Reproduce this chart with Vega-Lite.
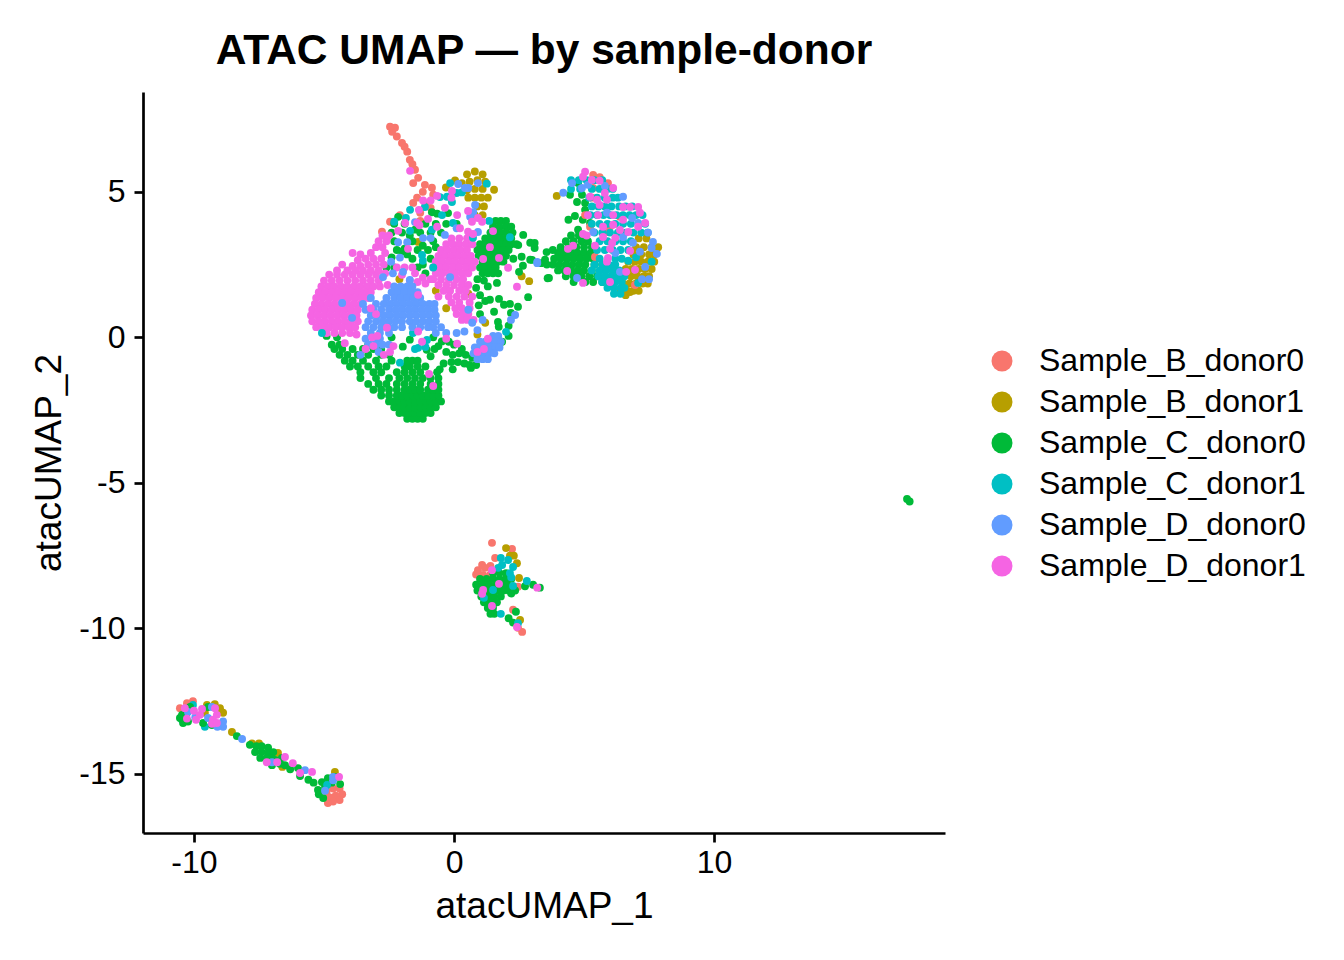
{
"$schema":"https://vega.github.io/schema/vega-lite/v6.json",
"width":802,"height":741,
"autosize":{"type":"none"},
"padding":{"left":143,"top":92,"right":399,"bottom":127},
"background":"white",
"title":{"text":"ATAC UMAP — by sample-donor","fontSize":42.5,"font":"Liberation Sans","fontWeight":"bold","color":"black","anchor":"middle","offset":20},
"config":{"view":{"stroke":null},"font":"Liberation Sans"},
"data":{"values":[
{"x":-2.46,"y":3.97,"s":"B0"},{"x":-2.77,"y":3.63,"s":"B0"},{"x":-2.08,"y":4.2,"s":"B0"},{"x":-1.3,"y":4.28,"s":"B0"},{"x":-1.57,"y":4.62,"s":"B0"},{"x":-1.42,"y":4.8,"s":"B0"},{"x":-1.2,"y":5,"s":"B0"},{"x":-0.8,"y":4.9,"s":"B0"},{"x":-1.57,"y":5.3,"s":"B0"},{"x":-0.85,"y":5.14,"s":"B0"},{"x":-1.12,"y":5.24,"s":"B0"},{"x":-1.38,"y":5.48,"s":"B0"},{"x":-1.5,"y":5.76,"s":"B0"},{"x":-1.6,"y":5.95,"s":"B0"},{"x":-1.7,"y":6.1,"s":"B0"},{"x":-1.8,"y":6.38,"s":"B0"},{"x":-1.9,"y":6.55,"s":"B0"},{"x":-2,"y":6.68,"s":"B0"},{"x":-2.2,"y":6.9,"s":"B0"},{"x":-2.38,"y":7.06,"s":"B0"},{"x":-2.27,"y":7.2,"s":"B0"},{"x":-2.46,"y":7.24,"s":"B0"},{"x":-1.1,"y":4.6,"s":"B0"},{"x":-1.3,"y":4,"s":"B0"},{"x":-0.9,"y":4.45,"s":"B0"},
{"x":0.5,"y":5.6,"s":"B1"},{"x":0.8,"y":5.7,"s":"B1"},{"x":1.1,"y":5.6,"s":"B1"},{"x":0.3,"y":5.3,"s":"B1"},{"x":0.6,"y":5.35,"s":"B1"},{"x":0.9,"y":5.4,"s":"B1"},{"x":1.2,"y":5.35,"s":"B1"},{"x":0.5,"y":5.05,"s":"B1"},{"x":0.8,"y":5.1,"s":"B1"},{"x":1.1,"y":5.1,"s":"B1"},{"x":1.3,"y":4.8,"s":"B1"},{"x":0.55,"y":4.8,"s":"B1"},{"x":0.8,"y":4.8,"s":"B1"},{"x":1.05,"y":4.8,"s":"B1"},{"x":0.9,"y":4.5,"s":"B1"},{"x":1.15,"y":4.5,"s":"B1"},{"x":0.8,"y":4.2,"s":"B1"},{"x":1.1,"y":4.2,"s":"B1"},{"x":1.54,"y":5.07,"s":"B1"},{"x":0.04,"y":5.39,"s":"B1"},{"x":-0.31,"y":5.15,"s":"B1"},{"x":-1.38,"y":3.28,"s":"B1"},{"x":-2.1,"y":2,"s":"B1"},{"x":-2.2,"y":1.7,"s":"B1"},{"x":-0.7,"y":1.6,"s":"B1"},{"x":0.55,"y":1.5,"s":"B1"},{"x":-0.3,"y":1,"s":"B1"},{"x":2.6,"y":2.1,"s":"B1"},{"x":2.89,"y":1.93,"s":"B1"},{"x":1.2,"y":0.5,"s":"B1"},{"x":0.9,"y":0.1,"s":"B1"},
{"x":1.6,"y":4,"s":"C0"},{"x":1.8,"y":4,"s":"C0"},{"x":2,"y":4,"s":"C0"},{"x":1.5,"y":3.8,"s":"C0"},{"x":1.75,"y":3.8,"s":"C0"},{"x":2,"y":3.8,"s":"C0"},{"x":2.2,"y":3.8,"s":"C0"},{"x":1.4,"y":3.6,"s":"C0"},{"x":1.6,"y":3.6,"s":"C0"},{"x":1.8,"y":3.6,"s":"C0"},{"x":2,"y":3.6,"s":"C0"},{"x":2.25,"y":3.6,"s":"C0"},{"x":1.2,"y":3.4,"s":"C0"},{"x":1.4,"y":3.4,"s":"C0"},{"x":1.6,"y":3.4,"s":"C0"},{"x":1.8,"y":3.4,"s":"C0"},{"x":2,"y":3.4,"s":"C0"},{"x":2.2,"y":3.4,"s":"C0"},{"x":1,"y":3.2,"s":"C0"},{"x":1.2,"y":3.2,"s":"C0"},{"x":1.4,"y":3.2,"s":"C0"},{"x":1.6,"y":3.2,"s":"C0"},{"x":1.8,"y":3.2,"s":"C0"},{"x":2,"y":3.2,"s":"C0"},{"x":2.2,"y":3.2,"s":"C0"},{"x":2.4,"y":3.2,"s":"C0"},{"x":0.9,"y":3,"s":"C0"},{"x":1.1,"y":3,"s":"C0"},{"x":1.3,"y":3,"s":"C0"},{"x":1.5,"y":3,"s":"C0"},{"x":1.7,"y":3,"s":"C0"},{"x":1.9,"y":3,"s":"C0"},{"x":2.1,"y":3,"s":"C0"},{"x":0.95,"y":2.8,"s":"C0"},{"x":1.2,"y":2.8,"s":"C0"},{"x":1.4,"y":2.8,"s":"C0"},{"x":1.6,"y":2.8,"s":"C0"},{"x":1.8,"y":2.8,"s":"C0"},{"x":2,"y":2.8,"s":"C0"},{"x":1.1,"y":2.6,"s":"C0"},{"x":1.3,"y":2.6,"s":"C0"},{"x":1.5,"y":2.6,"s":"C0"},{"x":1.7,"y":2.6,"s":"C0"},{"x":1.9,"y":2.6,"s":"C0"},{"x":1,"y":2.4,"s":"C0"},{"x":1.2,"y":2.4,"s":"C0"},{"x":1.4,"y":2.4,"s":"C0"},{"x":1.6,"y":2.4,"s":"C0"},{"x":1.1,"y":2.2,"s":"C0"},{"x":1.3,"y":2.2,"s":"C0"},{"x":1.5,"y":2.2,"s":"C0"},{"x":1.7,"y":2.2,"s":"C0"},{"x":0.9,"y":2,"s":"C0"},{"x":1.15,"y":1.95,"s":"C0"},{"x":1.3,"y":1.75,"s":"C0"},{"x":0.85,"y":1.7,"s":"C0"},{"x":1,"y":1.45,"s":"C0"},{"x":1.2,"y":1.25,"s":"C0"},{"x":0.95,"y":1.1,"s":"C0"},{"x":1,"y":0.8,"s":"C0"},
{"x":2.66,"y":3.52,"s":"C0"},{"x":2.47,"y":3.17,"s":"C0"},{"x":2.93,"y":3.25,"s":"C0"},{"x":3.1,"y":3.07,"s":"C0"},{"x":3.56,"y":2.93,"s":"C0"},{"x":2.28,"y":2.7,"s":"C0"},{"x":2.6,"y":2.77,"s":"C0"},{"x":2.93,"y":2.67,"s":"C0"},{"x":3.5,"y":2.67,"s":"C0"},{"x":2.65,"y":2.46,"s":"C0"},{"x":2.5,"y":2.25,"s":"C0"},{"x":3.6,"y":2.03,"s":"C0"},{"x":2.85,"y":1.38,"s":"C0"},{"x":1.65,"y":1.87,"s":"C0"},{"x":1.38,"y":1.29,"s":"C0"},{"x":1.73,"y":1.32,"s":"C0"},{"x":1.92,"y":1.12,"s":"C0"},{"x":2.15,"y":1.15,"s":"C0"},{"x":2.46,"y":1.05,"s":"C0"},{"x":1.54,"y":0.88,"s":"C0"},{"x":2.19,"y":0.84,"s":"C0"},{"x":1.69,"y":0.53,"s":"C0"},{"x":1.72,"y":0.36,"s":"C0"},{"x":2.1,"y":0.4,"s":"C0"},{"x":1.85,"y":-0.15,"s":"C0"},{"x":2.1,"y":0.05,"s":"C0"},
{"x":-1.8,"y":-2.8,"s":"C0"},{"x":-1.6,"y":-2.8,"s":"C0"},{"x":-1.4,"y":-2.8,"s":"C0"},{"x":-1.2,"y":-2.8,"s":"C0"},{"x":-2.1,"y":-2.6,"s":"C0"},{"x":-1.9,"y":-2.6,"s":"C0"},{"x":-1.7,"y":-2.6,"s":"C0"},{"x":-1.5,"y":-2.6,"s":"C0"},{"x":-1.3,"y":-2.6,"s":"C0"},{"x":-1.1,"y":-2.6,"s":"C0"},{"x":-0.9,"y":-2.6,"s":"C0"},{"x":-2.3,"y":-2.4,"s":"C0"},{"x":-2.1,"y":-2.4,"s":"C0"},{"x":-1.9,"y":-2.4,"s":"C0"},{"x":-1.7,"y":-2.4,"s":"C0"},{"x":-1.5,"y":-2.4,"s":"C0"},{"x":-1.3,"y":-2.4,"s":"C0"},{"x":-1.1,"y":-2.4,"s":"C0"},{"x":-0.9,"y":-2.4,"s":"C0"},{"x":-0.7,"y":-2.4,"s":"C0"},{"x":-2.5,"y":-2.2,"s":"C0"},{"x":-2.3,"y":-2.2,"s":"C0"},{"x":-2.1,"y":-2.2,"s":"C0"},{"x":-1.9,"y":-2.2,"s":"C0"},{"x":-1.7,"y":-2.2,"s":"C0"},{"x":-1.5,"y":-2.2,"s":"C0"},{"x":-1.3,"y":-2.2,"s":"C0"},{"x":-1.1,"y":-2.2,"s":"C0"},{"x":-0.9,"y":-2.2,"s":"C0"},{"x":-0.7,"y":-2.2,"s":"C0"},{"x":-0.5,"y":-2.2,"s":"C0"},{"x":-2.8,"y":-2,"s":"C0"},{"x":-2.5,"y":-2,"s":"C0"},{"x":-2.2,"y":-2,"s":"C0"},{"x":-2,"y":-2,"s":"C0"},{"x":-1.8,"y":-2,"s":"C0"},{"x":-1.6,"y":-2,"s":"C0"},{"x":-1.4,"y":-2,"s":"C0"},{"x":-1.2,"y":-2,"s":"C0"},{"x":-1,"y":-2,"s":"C0"},{"x":-0.8,"y":-2,"s":"C0"},{"x":-0.6,"y":-2,"s":"C0"},{"x":-3.1,"y":-1.8,"s":"C0"},{"x":-2.8,"y":-1.8,"s":"C0"},{"x":-2.5,"y":-1.8,"s":"C0"},{"x":-2.2,"y":-1.8,"s":"C0"},{"x":-1.9,"y":-1.8,"s":"C0"},{"x":-1.7,"y":-1.8,"s":"C0"},{"x":-1.5,"y":-1.8,"s":"C0"},{"x":-1.3,"y":-1.8,"s":"C0"},{"x":-1,"y":-1.8,"s":"C0"},{"x":-0.8,"y":-1.8,"s":"C0"},{"x":-0.6,"y":-1.8,"s":"C0"},{"x":-3.3,"y":-1.6,"s":"C0"},{"x":-2.9,"y":-1.6,"s":"C0"},{"x":-2.6,"y":-1.6,"s":"C0"},{"x":-2.2,"y":-1.6,"s":"C0"},{"x":-1.9,"y":-1.6,"s":"C0"},{"x":-1.6,"y":-1.6,"s":"C0"},{"x":-1.3,"y":-1.6,"s":"C0"},{"x":-0.9,"y":-1.6,"s":"C0"},{"x":-0.6,"y":-1.6,"s":"C0"},{"x":-3.6,"y":-1.4,"s":"C0"},{"x":-3,"y":-1.4,"s":"C0"},{"x":-2.5,"y":-1.4,"s":"C0"},{"x":-2.1,"y":-1.4,"s":"C0"},{"x":-1.8,"y":-1.4,"s":"C0"},{"x":-1.5,"y":-1.4,"s":"C0"},{"x":-1.2,"y":-1.4,"s":"C0"},{"x":-0.9,"y":-1.4,"s":"C0"},{"x":-0.6,"y":-1.4,"s":"C0"},{"x":-3.6,"y":-1.2,"s":"C0"},{"x":-3.1,"y":-1.2,"s":"C0"},{"x":-2.8,"y":-1.2,"s":"C0"},{"x":-2.2,"y":-1.2,"s":"C0"},{"x":-1.9,"y":-1.2,"s":"C0"},{"x":-1.6,"y":-1.2,"s":"C0"},{"x":-1.3,"y":-1.2,"s":"C0"},{"x":-0.65,"y":-1.2,"s":"C0"},{"x":-4,"y":-1,"s":"C0"},{"x":-3.7,"y":-1,"s":"C0"},{"x":-3.3,"y":-1,"s":"C0"},{"x":-2.9,"y":-1,"s":"C0"},{"x":-2.6,"y":-1,"s":"C0"},{"x":-1.9,"y":-1,"s":"C0"},{"x":-1.7,"y":-1,"s":"C0"},{"x":-1.4,"y":-1,"s":"C0"},{"x":-1.1,"y":-1,"s":"C0"},{"x":-4.2,"y":-0.8,"s":"C0"},{"x":-3.9,"y":-0.8,"s":"C0"},{"x":-3.5,"y":-0.8,"s":"C0"},{"x":-3,"y":-0.8,"s":"C0"},{"x":-2.4,"y":-0.8,"s":"C0"},{"x":-1.8,"y":-0.8,"s":"C0"},{"x":-1.6,"y":-0.8,"s":"C0"},{"x":-1.4,"y":-0.8,"s":"C0"},{"x":-4.4,"y":-0.6,"s":"C0"},{"x":-4.1,"y":-0.6,"s":"C0"},{"x":-3.7,"y":-0.6,"s":"C0"},{"x":-3.3,"y":-0.6,"s":"C0"},{"x":-2.8,"y":-0.6,"s":"C0"},{"x":-2.5,"y":-0.6,"s":"C0"},{"x":-4.6,"y":-0.4,"s":"C0"},{"x":-4.3,"y":-0.4,"s":"C0"},{"x":-3.9,"y":-0.4,"s":"C0"},{"x":-3.5,"y":-0.4,"s":"C0"},{"x":-3.1,"y":-0.4,"s":"C0"},{"x":-2.8,"y":-0.4,"s":"C0"},{"x":-4.7,"y":-0.25,"s":"C0"},{"x":-4.4,"y":-0.25,"s":"C0"},{"x":-3.3,"y":-0.25,"s":"C0"},{"x":-0.3,"y":-0.5,"s":"C0"},{"x":-0.05,"y":-0.6,"s":"C0"},{"x":0.2,"y":-0.55,"s":"C0"},{"x":0.45,"y":-0.6,"s":"C0"},{"x":0.7,"y":-0.7,"s":"C0"},{"x":-0.4,"y":-0.9,"s":"C0"},{"x":-0.1,"y":-0.85,"s":"C0"},{"x":0.15,"y":-0.85,"s":"C0"},{"x":0.4,"y":-0.9,"s":"C0"},{"x":0.6,"y":-0.95,"s":"C0"},{"x":0.85,"y":-0.95,"s":"C0"},{"x":-0.55,"y":-1.1,"s":"C0"},{"x":-0.05,"y":-1.1,"s":"C0"},{"x":0.65,"y":-1.05,"s":"C0"},{"x":0.3,"y":-0.4,"s":"C0"},{"x":0,"y":-0.25,"s":"C0"},{"x":-0.2,"y":-0.15,"s":"C0"},{"x":-0.6,"y":-0.3,"s":"C0"},{"x":-0.8,"y":0,"s":"C0"},{"x":-0.47,"y":-0.14,"s":"C0"},{"x":-1.7,"y":-0.08,"s":"C0"},{"x":-2.4,"y":0,"s":"C0"},{"x":-1.97,"y":-0.32,"s":"C0"},{"x":-1.05,"y":-0.43,"s":"C0"},{"x":-0.75,"y":-0.4,"s":"C0"},{"x":-0.9,"y":-0.65,"s":"C0"},{"x":-4.9,"y":0.05,"s":"C0"},{"x":-4.5,"y":0,"s":"C0"},
{"x":-2.15,"y":4.14,"s":"C0"},{"x":-0.85,"y":4.3,"s":"C0"},{"x":-0.65,"y":4.25,"s":"C0"},{"x":-0.23,"y":4.27,"s":"C0"},{"x":-2.3,"y":3.9,"s":"C0"},{"x":-1.9,"y":3.9,"s":"C0"},{"x":-1.5,"y":3.7,"s":"C0"},{"x":-1.1,"y":3.9,"s":"C0"},{"x":-0.7,"y":3.9,"s":"C0"},{"x":-0.3,"y":3.9,"s":"C0"},{"x":0.1,"y":3.9,"s":"C0"},{"x":-2.4,"y":3.6,"s":"C0"},{"x":-2,"y":3.6,"s":"C0"},{"x":-1.7,"y":3.5,"s":"C0"},{"x":-1.3,"y":3.6,"s":"C0"},{"x":-0.9,"y":3.6,"s":"C0"},{"x":-0.5,"y":3.6,"s":"C0"},{"x":-2.3,"y":3.3,"s":"C0"},{"x":-1.9,"y":3.05,"s":"C0"},{"x":-1.6,"y":3.3,"s":"C0"},{"x":-1.2,"y":3.15,"s":"C0"},{"x":-0.8,"y":3.3,"s":"C0"},{"x":-2.2,"y":3,"s":"C0"},{"x":-1.8,"y":2.85,"s":"C0"},{"x":-1.4,"y":3,"s":"C0"},{"x":-1,"y":3,"s":"C0"},{"x":-0.7,"y":3.1,"s":"C0"},{"x":-2.4,"y":2.75,"s":"C0"},{"x":-2,"y":2.95,"s":"C0"},{"x":-1.6,"y":2.7,"s":"C0"},{"x":-1.2,"y":2.5,"s":"C0"},{"x":-0.9,"y":2.7,"s":"C0"},{"x":-2.6,"y":2.4,"s":"C0"},{"x":-2.3,"y":2.4,"s":"C0"},{"x":-1.4,"y":2.4,"s":"C0"},{"x":-1.1,"y":2.2,"s":"C0"},
{"x":4.5,"y":3.5,"s":"C0"},{"x":4.8,"y":3.5,"s":"C0"},{"x":5,"y":3.5,"s":"C0"},{"x":4.3,"y":3.3,"s":"C0"},{"x":4.6,"y":3.3,"s":"C0"},{"x":4.9,"y":3.3,"s":"C0"},{"x":5.15,"y":3.3,"s":"C0"},{"x":4.1,"y":3.1,"s":"C0"},{"x":4.4,"y":3.1,"s":"C0"},{"x":4.7,"y":3.1,"s":"C0"},{"x":5,"y":3.1,"s":"C0"},{"x":5.3,"y":3.1,"s":"C0"},{"x":4,"y":2.9,"s":"C0"},{"x":4.25,"y":2.9,"s":"C0"},{"x":4.5,"y":2.9,"s":"C0"},{"x":4.75,"y":2.9,"s":"C0"},{"x":5,"y":2.9,"s":"C0"},{"x":5.25,"y":2.9,"s":"C0"},{"x":3.85,"y":2.7,"s":"C0"},{"x":4.1,"y":2.7,"s":"C0"},{"x":4.35,"y":2.7,"s":"C0"},{"x":4.6,"y":2.7,"s":"C0"},{"x":4.85,"y":2.7,"s":"C0"},{"x":5.1,"y":2.7,"s":"C0"},{"x":5.35,"y":2.7,"s":"C0"},{"x":3.8,"y":2.5,"s":"C0"},{"x":4.05,"y":2.5,"s":"C0"},{"x":4.3,"y":2.5,"s":"C0"},{"x":4.55,"y":2.5,"s":"C0"},{"x":4.8,"y":2.5,"s":"C0"},{"x":5.05,"y":2.5,"s":"C0"},{"x":5.4,"y":2.5,"s":"C0"},{"x":5.7,"y":2.5,"s":"C0"},{"x":4,"y":2.3,"s":"C0"},{"x":4.25,"y":2.3,"s":"C0"},{"x":4.5,"y":2.3,"s":"C0"},{"x":4.75,"y":2.3,"s":"C0"},{"x":5,"y":2.3,"s":"C0"},{"x":5.3,"y":2.3,"s":"C0"},{"x":4.3,"y":2.1,"s":"C0"},{"x":4.6,"y":2.1,"s":"C0"},{"x":4.9,"y":2.1,"s":"C0"},{"x":5.2,"y":2.1,"s":"C0"},{"x":5.5,"y":2.1,"s":"C0"},{"x":4.6,"y":1.9,"s":"C0"},{"x":5.05,"y":1.9,"s":"C0"},{"x":5.35,"y":1.9,"s":"C0"},{"x":5.7,"y":1.9,"s":"C0"},{"x":4.4,"y":4.04,"s":"C0"},{"x":4.65,"y":4.17,"s":"C0"},{"x":4.95,"y":4.04,"s":"C0"},{"x":4.77,"y":3.7,"s":"C0"},{"x":3.8,"y":3,"s":"C0"},{"x":3.57,"y":2.5,"s":"C0"},{"x":3.35,"y":2.55,"s":"C0"},{"x":3,"y":2.66,"s":"C0"},{"x":3.65,"y":2.04,"s":"C0"},{"x":3.1,"y":3.24,"s":"C0"},{"x":4.77,"y":5.3,"s":"C0"},{"x":4.46,"y":4.9,"s":"C0"},{"x":4.92,"y":4.9,"s":"C0"},{"x":5.04,"y":4.62,"s":"C0"},{"x":4.73,"y":4.65,"s":"C0"},{"x":5.23,"y":3.93,"s":"C0"},{"x":5.04,"y":4.38,"s":"C0"},
{"x":7.1,"y":3.4,"s":"B1"},{"x":7.4,"y":3.4,"s":"B1"},{"x":7,"y":3.1,"s":"B1"},{"x":7.3,"y":3.1,"s":"B1"},{"x":7.6,"y":3.1,"s":"B1"},{"x":7.85,"y":3.1,"s":"B1"},{"x":6.9,"y":2.85,"s":"B1"},{"x":7.2,"y":2.85,"s":"B1"},{"x":7.5,"y":2.85,"s":"B1"},{"x":7.7,"y":2.85,"s":"B1"},{"x":6.7,"y":2.6,"s":"B1"},{"x":6.95,"y":2.6,"s":"B1"},{"x":7.2,"y":2.6,"s":"B1"},{"x":7.45,"y":2.6,"s":"B1"},{"x":7.7,"y":2.6,"s":"B1"},{"x":6.6,"y":2.35,"s":"B1"},{"x":6.85,"y":2.35,"s":"B1"},{"x":7.1,"y":2.35,"s":"B1"},{"x":7.35,"y":2.35,"s":"B1"},{"x":7.6,"y":2.35,"s":"B1"},{"x":6.5,"y":2.1,"s":"B1"},{"x":6.8,"y":2.1,"s":"B1"},{"x":7.05,"y":2.1,"s":"B1"},{"x":7.3,"y":2.1,"s":"B1"},{"x":7.5,"y":2.1,"s":"B1"},{"x":6.5,"y":1.85,"s":"B1"},{"x":6.75,"y":1.85,"s":"B1"},{"x":7,"y":1.85,"s":"B1"},{"x":7.25,"y":1.85,"s":"B1"},{"x":7.45,"y":1.85,"s":"B1"},{"x":6.4,"y":1.6,"s":"B1"},{"x":6.65,"y":1.6,"s":"B1"},{"x":6.9,"y":1.6,"s":"B1"},{"x":7.1,"y":1.6,"s":"B1"},{"x":6.6,"y":1.45,"s":"B1"},{"x":3.95,"y":4.86,"s":"B1"},{"x":6.77,"y":1.56,"s":"B1"},
{"x":5.6,"y":5.5,"s":"B0"},{"x":5.35,"y":5.58,"s":"B0"},{"x":5.92,"y":5.3,"s":"B0"},{"x":5.35,"y":5.13,"s":"B0"},{"x":5.3,"y":4.8,"s":"B0"},{"x":5.04,"y":4.2,"s":"B0"},{"x":5.23,"y":3.8,"s":"B0"},{"x":5.88,"y":3.62,"s":"B0"},{"x":5.42,"y":2.76,"s":"B0"},{"x":6.38,"y":4.14,"s":"B0"},{"x":6.96,"y":1.8,"s":"B0"},{"x":6,"y":3.8,"s":"B0"},
{"x":4.5,"y":5.4,"s":"C1"},{"x":4.8,"y":5.4,"s":"C1"},{"x":5.1,"y":5.4,"s":"C1"},{"x":5.4,"y":5.4,"s":"C1"},{"x":5.7,"y":5.4,"s":"C1"},{"x":4.5,"y":5.1,"s":"C1"},{"x":4.85,"y":5.1,"s":"C1"},{"x":5.3,"y":5.1,"s":"C1"},{"x":5.6,"y":5.1,"s":"C1"},{"x":5.9,"y":5.1,"s":"C1"},{"x":6.1,"y":5.1,"s":"C1"},{"x":5.2,"y":4.8,"s":"C1"},{"x":5.5,"y":4.8,"s":"C1"},{"x":5.8,"y":4.8,"s":"C1"},{"x":6.1,"y":4.8,"s":"C1"},{"x":6.3,"y":4.8,"s":"C1"},{"x":5.3,"y":4.5,"s":"C1"},{"x":5.55,"y":4.5,"s":"C1"},{"x":5.8,"y":4.5,"s":"C1"},{"x":6.05,"y":4.5,"s":"C1"},{"x":6.35,"y":4.5,"s":"C1"},{"x":6.6,"y":4.5,"s":"C1"},{"x":6.85,"y":4.5,"s":"C1"},{"x":5.25,"y":4.2,"s":"C1"},{"x":5.5,"y":4.2,"s":"C1"},{"x":5.75,"y":4.2,"s":"C1"},{"x":6,"y":4.2,"s":"C1"},{"x":6.25,"y":4.2,"s":"C1"},{"x":6.5,"y":4.2,"s":"C1"},{"x":6.75,"y":4.2,"s":"C1"},{"x":7,"y":4.2,"s":"C1"},{"x":7.25,"y":4.2,"s":"C1"},{"x":5.3,"y":3.9,"s":"C1"},{"x":5.6,"y":3.9,"s":"C1"},{"x":5.9,"y":3.9,"s":"C1"},{"x":6.2,"y":3.9,"s":"C1"},{"x":6.5,"y":3.9,"s":"C1"},{"x":6.8,"y":3.9,"s":"C1"},{"x":7.1,"y":3.9,"s":"C1"},{"x":7.35,"y":3.9,"s":"C1"},{"x":5.4,"y":3.6,"s":"C1"},{"x":5.7,"y":3.6,"s":"C1"},{"x":6,"y":3.6,"s":"C1"},{"x":6.3,"y":3.6,"s":"C1"},{"x":6.6,"y":3.6,"s":"C1"},{"x":6.9,"y":3.6,"s":"C1"},{"x":7.2,"y":3.6,"s":"C1"},{"x":7.45,"y":3.6,"s":"C1"},{"x":5.6,"y":3.3,"s":"C1"},{"x":5.9,"y":3.3,"s":"C1"},{"x":6.2,"y":3.3,"s":"C1"},{"x":6.5,"y":3.3,"s":"C1"},{"x":6.8,"y":3.3,"s":"C1"},{"x":5.5,"y":3,"s":"C1"},{"x":5.8,"y":3,"s":"C1"},{"x":6.1,"y":3,"s":"C1"},{"x":6.4,"y":3,"s":"C1"},{"x":6.7,"y":3,"s":"C1"},{"x":5.6,"y":2.7,"s":"C1"},{"x":6.2,"y":2.7,"s":"C1"},{"x":6.45,"y":2.7,"s":"C1"},{"x":5.4,"y":2.5,"s":"C1"},{"x":5.7,"y":2.5,"s":"C1"},{"x":5.95,"y":2.5,"s":"C1"},{"x":6.2,"y":2.5,"s":"C1"},{"x":5.3,"y":2.3,"s":"C1"},{"x":5.6,"y":2.3,"s":"C1"},{"x":5.85,"y":2.3,"s":"C1"},{"x":6.1,"y":2.3,"s":"C1"},{"x":6.35,"y":2.3,"s":"C1"},{"x":5.55,"y":2.1,"s":"C1"},{"x":5.8,"y":2.1,"s":"C1"},{"x":6.05,"y":2.1,"s":"C1"},{"x":6.3,"y":2.1,"s":"C1"},{"x":6.55,"y":2.1,"s":"C1"},{"x":5.7,"y":1.9,"s":"C1"},{"x":5.95,"y":1.9,"s":"C1"},{"x":6.2,"y":1.9,"s":"C1"},{"x":6.45,"y":1.9,"s":"C1"},{"x":5.9,"y":1.7,"s":"C1"},{"x":6.15,"y":1.7,"s":"C1"},{"x":6.4,"y":1.7,"s":"C1"},{"x":6.55,"y":1.7,"s":"C1"},{"x":6.15,"y":1.5,"s":"C1"},{"x":6.4,"y":1.5,"s":"C1"},{"x":6.7,"y":2.63,"s":"C1"},{"x":7.6,"y":2.6,"s":"C1"},{"x":7.08,"y":1.87,"s":"C1"},{"x":7,"y":2.75,"s":"C1"},
{"x":4.2,"y":4.97,"s":"D0"},{"x":4.54,"y":5.3,"s":"D0"},{"x":4.92,"y":5.13,"s":"D0"},{"x":5.15,"y":5.24,"s":"D0"},{"x":5.8,"y":5.2,"s":"D0"},{"x":6.5,"y":4.83,"s":"D0"},{"x":5.88,"y":4.28,"s":"D0"},{"x":5.35,"y":3.62,"s":"D0"},{"x":6.5,"y":3.45,"s":"D0"},{"x":6.88,"y":3.25,"s":"D0"},{"x":7.15,"y":2.94,"s":"D0"},{"x":7.65,"y":3.28,"s":"D0"},{"x":7.6,"y":3.07,"s":"D0"},{"x":7.8,"y":2.87,"s":"D0"},{"x":7.35,"y":2.42,"s":"D0"},{"x":7.23,"y":2,"s":"D0"},{"x":7.5,"y":2,"s":"D0"},{"x":7.46,"y":3.6,"s":"D0"},{"x":6.85,"y":4.1,"s":"D0"},{"x":7.08,"y":3.93,"s":"D0"},{"x":6.2,"y":2.9,"s":"D0"},{"x":6.38,"y":2.25,"s":"D0"},{"x":4.73,"y":2.04,"s":"D0"},{"x":3.2,"y":2.59,"s":"D0"},
{"x":5.04,"y":5.69,"s":"D1"},{"x":4.96,"y":5.52,"s":"D1"},{"x":5.3,"y":5.41,"s":"D1"},{"x":5.6,"y":5.38,"s":"D1"},{"x":6.12,"y":5.13,"s":"D1"},{"x":5.23,"y":4.83,"s":"D1"},{"x":5.8,"y":4.96,"s":"D1"},{"x":5.88,"y":4.73,"s":"D1"},{"x":5.5,"y":4.73,"s":"D1"},{"x":5.6,"y":4.55,"s":"D1"},{"x":5.15,"y":4.2,"s":"D1"},{"x":5.54,"y":4.2,"s":"D1"},{"x":6.12,"y":4.2,"s":"D1"},{"x":6.5,"y":4.48,"s":"D1"},{"x":6.77,"y":4.48,"s":"D1"},{"x":7.08,"y":4.48,"s":"D1"},{"x":7.15,"y":4.28,"s":"D1"},{"x":6.5,"y":4.04,"s":"D1"},{"x":5.73,"y":3.8,"s":"D1"},{"x":6.12,"y":3.87,"s":"D1"},{"x":6.38,"y":3.69,"s":"D1"},{"x":6.7,"y":3.62,"s":"D1"},{"x":7.08,"y":3.8,"s":"D1"},{"x":7.35,"y":3.93,"s":"D1"},{"x":4.96,"y":3.55,"s":"D1"},{"x":5.1,"y":3.5,"s":"D1"},{"x":5.73,"y":3.45,"s":"D1"},{"x":6.2,"y":3.42,"s":"D1"},{"x":6.08,"y":3.24,"s":"D1"},{"x":5.42,"y":3.15,"s":"D1"},{"x":6,"y":3.04,"s":"D1"},{"x":6.77,"y":2.97,"s":"D1"},{"x":5.92,"y":2.73,"s":"D1"},{"x":5.88,"y":2.6,"s":"D1"},{"x":6.96,"y":2.32,"s":"D1"},{"x":6.62,"y":2.25,"s":"D1"},{"x":6,"y":1.9,"s":"D1"},{"x":4.35,"y":2.28,"s":"D1"},{"x":4.38,"y":3.04,"s":"D1"},{"x":4.58,"y":3.15,"s":"D1"},{"x":4.96,"y":1.87,"s":"D1"},
{"x":-4.8,"y":2.15,"s":"D1"},{"x":-4.5,"y":2.15,"s":"D1"},{"x":-4.2,"y":2.15,"s":"D1"},{"x":-3.9,"y":2.15,"s":"D1"},{"x":-3.6,"y":2.15,"s":"D1"},{"x":-3.3,"y":2.15,"s":"D1"},{"x":-3,"y":2.15,"s":"D1"},{"x":-5,"y":1.95,"s":"D1"},{"x":-4.7,"y":1.95,"s":"D1"},{"x":-4.4,"y":1.95,"s":"D1"},{"x":-4.1,"y":1.95,"s":"D1"},{"x":-3.8,"y":1.95,"s":"D1"},{"x":-3.5,"y":1.95,"s":"D1"},{"x":-3.2,"y":1.95,"s":"D1"},{"x":-2.9,"y":1.95,"s":"D1"},{"x":-5.1,"y":1.75,"s":"D1"},{"x":-4.85,"y":1.75,"s":"D1"},{"x":-4.6,"y":1.75,"s":"D1"},{"x":-4.35,"y":1.75,"s":"D1"},{"x":-4.1,"y":1.75,"s":"D1"},{"x":-3.85,"y":1.75,"s":"D1"},{"x":-3.6,"y":1.75,"s":"D1"},{"x":-3.35,"y":1.75,"s":"D1"},{"x":-3.1,"y":1.75,"s":"D1"},{"x":-2.85,"y":1.75,"s":"D1"},{"x":-5.2,"y":1.55,"s":"D1"},{"x":-4.95,"y":1.55,"s":"D1"},{"x":-4.7,"y":1.55,"s":"D1"},{"x":-4.45,"y":1.55,"s":"D1"},{"x":-4.2,"y":1.55,"s":"D1"},{"x":-3.95,"y":1.55,"s":"D1"},{"x":-3.7,"y":1.55,"s":"D1"},{"x":-3.45,"y":1.55,"s":"D1"},{"x":-3.2,"y":1.55,"s":"D1"},{"x":-5.3,"y":1.35,"s":"D1"},{"x":-5.05,"y":1.35,"s":"D1"},{"x":-4.8,"y":1.35,"s":"D1"},{"x":-4.55,"y":1.35,"s":"D1"},{"x":-4.3,"y":1.35,"s":"D1"},{"x":-4.05,"y":1.35,"s":"D1"},{"x":-3.8,"y":1.35,"s":"D1"},{"x":-3.55,"y":1.35,"s":"D1"},{"x":-3.3,"y":1.35,"s":"D1"},{"x":-5.35,"y":1.15,"s":"D1"},{"x":-5.1,"y":1.15,"s":"D1"},{"x":-4.85,"y":1.15,"s":"D1"},{"x":-4.6,"y":1.15,"s":"D1"},{"x":-4.35,"y":1.15,"s":"D1"},{"x":-4.1,"y":1.15,"s":"D1"},{"x":-3.85,"y":1.15,"s":"D1"},{"x":-3.6,"y":1.15,"s":"D1"},{"x":-5.45,"y":0.95,"s":"D1"},{"x":-5.2,"y":0.95,"s":"D1"},{"x":-4.95,"y":0.95,"s":"D1"},{"x":-4.7,"y":0.95,"s":"D1"},{"x":-4.45,"y":0.95,"s":"D1"},{"x":-4.2,"y":0.95,"s":"D1"},{"x":-3.95,"y":0.95,"s":"D1"},{"x":-3.7,"y":0.95,"s":"D1"},{"x":-5.5,"y":0.75,"s":"D1"},{"x":-5.25,"y":0.75,"s":"D1"},{"x":-5,"y":0.75,"s":"D1"},{"x":-4.75,"y":0.75,"s":"D1"},{"x":-4.5,"y":0.75,"s":"D1"},{"x":-4.25,"y":0.75,"s":"D1"},{"x":-4,"y":0.75,"s":"D1"},{"x":-3.75,"y":0.75,"s":"D1"},{"x":-5.45,"y":0.55,"s":"D1"},{"x":-5.2,"y":0.55,"s":"D1"},{"x":-4.95,"y":0.55,"s":"D1"},{"x":-4.7,"y":0.55,"s":"D1"},{"x":-4.45,"y":0.55,"s":"D1"},{"x":-4.2,"y":0.55,"s":"D1"},{"x":-3.95,"y":0.55,"s":"D1"},{"x":-3.7,"y":0.55,"s":"D1"},{"x":-5.3,"y":0.35,"s":"D1"},{"x":-5.05,"y":0.35,"s":"D1"},{"x":-4.8,"y":0.35,"s":"D1"},{"x":-4.55,"y":0.35,"s":"D1"},{"x":-4.3,"y":0.35,"s":"D1"},{"x":-4.05,"y":0.35,"s":"D1"},{"x":-3.8,"y":0.35,"s":"D1"},{"x":-4.9,"y":0.15,"s":"D1"},{"x":-4.6,"y":0.15,"s":"D1"},{"x":-4.3,"y":0.15,"s":"D1"},{"x":-4,"y":0.15,"s":"D1"},{"x":-3.75,"y":0.1,"s":"D1"},
{"x":-3.9,"y":2.9,"s":"D1"},{"x":-3.6,"y":2.85,"s":"D1"},{"x":-3.2,"y":2.9,"s":"D1"},{"x":-3.7,"y":2.65,"s":"D1"},{"x":-3.4,"y":2.7,"s":"D1"},{"x":-3.1,"y":2.7,"s":"D1"},{"x":-2.8,"y":2.7,"s":"D1"},{"x":-4.3,"y":2.5,"s":"D1"},{"x":-3.9,"y":2.45,"s":"D1"},{"x":-3.6,"y":2.45,"s":"D1"},{"x":-3.3,"y":2.5,"s":"D1"},{"x":-3,"y":2.5,"s":"D1"},{"x":-2.7,"y":2.5,"s":"D1"},{"x":-4.5,"y":2.3,"s":"D1"},{"x":-4.1,"y":2.3,"s":"D1"},{"x":-3.8,"y":2.3,"s":"D1"},{"x":-3.5,"y":2.3,"s":"D1"},{"x":-3.2,"y":2.3,"s":"D1"},{"x":-2.9,"y":2.3,"s":"D1"},{"x":-3,"y":3.1,"s":"D1"},{"x":-2.75,"y":3.1,"s":"D1"},{"x":-2.9,"y":3.3,"s":"D1"},{"x":-2.6,"y":3.3,"s":"D1"},{"x":-2.75,"y":3.5,"s":"D1"},{"x":-2.5,"y":3.5,"s":"D1"},{"x":-2.65,"y":2.9,"s":"D1"},
{"x":-2.2,"y":2.4,"s":"D1"},{"x":-1.9,"y":2.4,"s":"D1"},{"x":-1.6,"y":2.4,"s":"D1"},{"x":-2,"y":2.15,"s":"D1"},{"x":-1.5,"y":2.2,"s":"D1"},{"x":-1.2,"y":2.05,"s":"D1"},{"x":-1.7,"y":1.95,"s":"D1"},{"x":-1.4,"y":1.9,"s":"D1"},{"x":-1.1,"y":1.85,"s":"D1"},{"x":-0.9,"y":2,"s":"D1"},{"x":-2.55,"y":1.8,"s":"D1"},{"x":-2.65,"y":2.2,"s":"D1"},
{"x":-0.1,"y":3.4,"s":"D1"},{"x":0.2,"y":3.4,"s":"D1"},{"x":0.5,"y":3.4,"s":"D1"},{"x":-0.3,"y":3.2,"s":"D1"},{"x":-0.05,"y":3.2,"s":"D1"},{"x":0.2,"y":3.2,"s":"D1"},{"x":0.45,"y":3.2,"s":"D1"},{"x":0.7,"y":3.2,"s":"D1"},{"x":-0.5,"y":3,"s":"D1"},{"x":-0.25,"y":3,"s":"D1"},{"x":0,"y":3,"s":"D1"},{"x":0.25,"y":3,"s":"D1"},{"x":0.5,"y":3,"s":"D1"},{"x":-0.6,"y":2.8,"s":"D1"},{"x":-0.35,"y":2.8,"s":"D1"},{"x":-0.1,"y":2.8,"s":"D1"},{"x":0.15,"y":2.8,"s":"D1"},{"x":0.4,"y":2.8,"s":"D1"},{"x":0.65,"y":2.8,"s":"D1"},{"x":-0.7,"y":2.6,"s":"D1"},{"x":-0.45,"y":2.6,"s":"D1"},{"x":-0.2,"y":2.6,"s":"D1"},{"x":0.05,"y":2.6,"s":"D1"},{"x":0.3,"y":2.6,"s":"D1"},{"x":0.55,"y":2.6,"s":"D1"},{"x":0.8,"y":2.6,"s":"D1"},{"x":-0.8,"y":2.4,"s":"D1"},{"x":-0.55,"y":2.4,"s":"D1"},{"x":-0.3,"y":2.4,"s":"D1"},{"x":-0.05,"y":2.4,"s":"D1"},{"x":0.2,"y":2.4,"s":"D1"},{"x":0.45,"y":2.4,"s":"D1"},{"x":0.7,"y":2.4,"s":"D1"},{"x":-0.7,"y":2.2,"s":"D1"},{"x":-0.45,"y":2.2,"s":"D1"},{"x":-0.2,"y":2.2,"s":"D1"},{"x":0.05,"y":2.2,"s":"D1"},{"x":0.3,"y":2.2,"s":"D1"},{"x":0.55,"y":2.2,"s":"D1"},{"x":-0.8,"y":2,"s":"D1"},{"x":-0.5,"y":2,"s":"D1"},{"x":-0.2,"y":2,"s":"D1"},{"x":0.1,"y":2,"s":"D1"},{"x":0.35,"y":2,"s":"D1"},{"x":-0.6,"y":1.8,"s":"D1"},{"x":-0.3,"y":1.8,"s":"D1"},{"x":0,"y":1.8,"s":"D1"},{"x":0.3,"y":1.8,"s":"D1"},{"x":0.55,"y":1.8,"s":"D1"},{"x":-0.4,"y":1.6,"s":"D1"},{"x":-0.15,"y":1.6,"s":"D1"},{"x":0.2,"y":1.6,"s":"D1"},{"x":0.45,"y":1.6,"s":"D1"},{"x":-0.6,"y":1.4,"s":"D1"},{"x":-0.2,"y":1.4,"s":"D1"},{"x":0.1,"y":1.4,"s":"D1"},{"x":0.4,"y":1.4,"s":"D1"},{"x":0.7,"y":1.4,"s":"D1"},{"x":-0.1,"y":1.2,"s":"D1"},{"x":0.2,"y":1.2,"s":"D1"},{"x":0.6,"y":1.2,"s":"D1"},{"x":0.05,"y":1,"s":"D1"},{"x":0.3,"y":1,"s":"D1"},{"x":0.6,"y":1,"s":"D1"},{"x":0.1,"y":0.8,"s":"D1"},{"x":0.35,"y":0.8,"s":"D1"},{"x":0.55,"y":0.8,"s":"D1"},{"x":0.3,"y":0.6,"s":"D1"},{"x":0.5,"y":0.6,"s":"D1"},{"x":0.75,"y":0.6,"s":"D1"},
{"x":-2.3,"y":3.97,"s":"C1"},{"x":-1.85,"y":4.1,"s":"C1"},{"x":-0.46,"y":4.2,"s":"C1"},{"x":-0.85,"y":3.7,"s":"C1"},{"x":-0.04,"y":3.93,"s":"C1"},{"x":-1.23,"y":2.83,"s":"C1"},{"x":-1.2,"y":2.63,"s":"C1"},{"x":-0.8,"y":2.4,"s":"C1"},{"x":2.15,"y":3.44,"s":"C1"},{"x":0.73,"y":3.42,"s":"C1"},{"x":1.35,"y":4,"s":"C1"},{"x":-1.69,"y":3.66,"s":"C1"},{"x":-0.15,"y":5.3,"s":"C1"},{"x":-0.54,"y":4.82,"s":"C1"},{"x":-0.27,"y":4.83,"s":"C1"},{"x":0.1,"y":4.96,"s":"C1"},{"x":0.3,"y":4.98,"s":"C1"},{"x":-0.08,"y":4.65,"s":"C1"},{"x":-1.12,"y":4.48,"s":"C1"},{"x":-1.69,"y":4.38,"s":"C1"},{"x":1.26,"y":5.28,"s":"C1"},{"x":-1.38,"y":-0.36,"s":"C1"},{"x":-1.1,"y":-0.33,"s":"C1"},{"x":-1.5,"y":-0.4,"s":"C1"},{"x":-1.58,"y":0.15,"s":"C1"},{"x":-1.04,"y":-0.09,"s":"C1"},{"x":-2.08,"y":-0.87,"s":"C1"},{"x":-5.08,"y":0.15,"s":"C1"},{"x":2,"y":0.19,"s":"C1"},
{"x":-2.3,"y":1.75,"s":"D0"},{"x":-2.05,"y":1.75,"s":"D0"},{"x":-1.8,"y":1.75,"s":"D0"},{"x":-1.6,"y":1.75,"s":"D0"},{"x":-2.4,"y":1.55,"s":"D0"},{"x":-2.15,"y":1.55,"s":"D0"},{"x":-1.9,"y":1.55,"s":"D0"},{"x":-1.65,"y":1.55,"s":"D0"},{"x":-1.4,"y":1.55,"s":"D0"},{"x":-3.2,"y":1.35,"s":"D0"},{"x":-2.6,"y":1.35,"s":"D0"},{"x":-2.3,"y":1.35,"s":"D0"},{"x":-2.05,"y":1.35,"s":"D0"},{"x":-1.8,"y":1.35,"s":"D0"},{"x":-1.55,"y":1.35,"s":"D0"},{"x":-1.3,"y":1.35,"s":"D0"},{"x":-3.5,"y":1.15,"s":"D0"},{"x":-3,"y":1.15,"s":"D0"},{"x":-2.7,"y":1.15,"s":"D0"},{"x":-2.45,"y":1.15,"s":"D0"},{"x":-2.2,"y":1.15,"s":"D0"},{"x":-1.95,"y":1.15,"s":"D0"},{"x":-1.7,"y":1.15,"s":"D0"},{"x":-1.45,"y":1.15,"s":"D0"},{"x":-1.2,"y":1.15,"s":"D0"},{"x":-0.95,"y":1.15,"s":"D0"},{"x":-0.75,"y":1.15,"s":"D0"},{"x":-3.4,"y":0.95,"s":"D0"},{"x":-3.1,"y":0.95,"s":"D0"},{"x":-2.8,"y":0.95,"s":"D0"},{"x":-2.5,"y":0.95,"s":"D0"},{"x":-2.25,"y":0.95,"s":"D0"},{"x":-2,"y":0.95,"s":"D0"},{"x":-1.75,"y":0.95,"s":"D0"},{"x":-1.5,"y":0.95,"s":"D0"},{"x":-1.25,"y":0.95,"s":"D0"},{"x":-1,"y":0.95,"s":"D0"},{"x":-0.75,"y":0.95,"s":"D0"},{"x":-3.2,"y":0.75,"s":"D0"},{"x":-2.95,"y":0.75,"s":"D0"},{"x":-2.7,"y":0.75,"s":"D0"},{"x":-2.45,"y":0.75,"s":"D0"},{"x":-2.2,"y":0.75,"s":"D0"},{"x":-1.95,"y":0.75,"s":"D0"},{"x":-1.7,"y":0.75,"s":"D0"},{"x":-1.45,"y":0.75,"s":"D0"},{"x":-1.2,"y":0.75,"s":"D0"},{"x":-0.95,"y":0.75,"s":"D0"},{"x":-0.7,"y":0.75,"s":"D0"},{"x":-3.3,"y":0.55,"s":"D0"},{"x":-3,"y":0.55,"s":"D0"},{"x":-2.75,"y":0.55,"s":"D0"},{"x":-2.5,"y":0.55,"s":"D0"},{"x":-2.25,"y":0.55,"s":"D0"},{"x":-2,"y":0.55,"s":"D0"},{"x":-1.7,"y":0.55,"s":"D0"},{"x":-1.45,"y":0.55,"s":"D0"},{"x":-1.2,"y":0.55,"s":"D0"},{"x":-0.95,"y":0.55,"s":"D0"},{"x":-0.7,"y":0.55,"s":"D0"},{"x":-3.4,"y":0.35,"s":"D0"},{"x":-3.1,"y":0.35,"s":"D0"},{"x":-2.8,"y":0.35,"s":"D0"},{"x":-2.55,"y":0.35,"s":"D0"},{"x":-2.3,"y":0.35,"s":"D0"},{"x":-2,"y":0.35,"s":"D0"},{"x":-1.6,"y":0.35,"s":"D0"},{"x":-1.3,"y":0.35,"s":"D0"},{"x":-1,"y":0.35,"s":"D0"},{"x":-0.8,"y":0.35,"s":"D0"},{"x":-0.5,"y":0.35,"s":"D0"},{"x":-3.2,"y":0.15,"s":"D0"},{"x":-2.85,"y":0.15,"s":"D0"},{"x":-2.5,"y":0.15,"s":"D0"},{"x":-0.7,"y":0.15,"s":"D0"},{"x":-0.3,"y":0.15,"s":"D0"},{"x":0.1,"y":0.15,"s":"D0"},{"x":-3.4,"y":-0.05,"s":"D0"},{"x":-3.1,"y":-0.05,"s":"D0"},{"x":-2.85,"y":-0.05,"s":"D0"},{"x":-3.3,"y":-0.25,"s":"D0"},{"x":-3,"y":-0.25,"s":"D0"},{"x":-2.75,"y":-0.25,"s":"D0"},{"x":-2.5,"y":-0.25,"s":"D0"},{"x":-3.6,"y":-0.6,"s":"D0"},{"x":-2.9,"y":-0.5,"s":"D0"},{"x":-4.3,"y":1.18,"s":"D0"},{"x":-3.92,"y":0.67,"s":"D0"},{"x":0.55,"y":0.95,"s":"D0"},{"x":0.7,"y":0.5,"s":"D0"},{"x":0.9,"y":0.25,"s":"D0"},{"x":1.1,"y":0.6,"s":"D0"},{"x":0.4,"y":0.2,"s":"D0"},{"x":1.5,"y":0.05,"s":"D0"},{"x":1.7,"y":0.05,"s":"D0"},{"x":1,"y":-0.15,"s":"D0"},{"x":1.2,"y":-0.15,"s":"D0"},{"x":1.4,"y":-0.15,"s":"D0"},{"x":1.6,"y":-0.15,"s":"D0"},{"x":1.8,"y":-0.15,"s":"D0"},{"x":0.8,"y":-0.35,"s":"D0"},{"x":1,"y":-0.35,"s":"D0"},{"x":1.2,"y":-0.35,"s":"D0"},{"x":1.4,"y":-0.35,"s":"D0"},{"x":1.6,"y":-0.35,"s":"D0"},{"x":1.75,"y":-0.35,"s":"D0"},{"x":0.75,"y":-0.55,"s":"D0"},{"x":0.95,"y":-0.55,"s":"D0"},{"x":1.15,"y":-0.55,"s":"D0"},{"x":1.35,"y":-0.55,"s":"D0"},{"x":1.55,"y":-0.55,"s":"D0"},{"x":0.9,"y":-0.75,"s":"D0"},{"x":1.1,"y":-0.75,"s":"D0"},{"x":1.3,"y":-0.75,"s":"D0"},{"x":2.35,"y":0.77,"s":"D0"},{"x":2.19,"y":0.6,"s":"D0"},{"x":3.2,"y":2.55,"s":"D0"},
{"x":0.16,"y":5.27,"s":"D0"},{"x":0.42,"y":5.13,"s":"D0"},{"x":0.55,"y":5.13,"s":"D0"},{"x":0.92,"y":5.3,"s":"D0"},{"x":0.81,"y":4.55,"s":"D0"},{"x":0.74,"y":4.3,"s":"D0"},{"x":-1.5,"y":3.96,"s":"D0"},{"x":-1.19,"y":3.41,"s":"D0"},{"x":-0.9,"y":3.41,"s":"D0"},{"x":-1.8,"y":3.27,"s":"D0"},{"x":-2.15,"y":3.27,"s":"D0"},{"x":-2.08,"y":2.74,"s":"D0"},{"x":-2.42,"y":2.6,"s":"D0"},{"x":-0.35,"y":3.52,"s":"D0"},{"x":0.1,"y":3.75,"s":"D0"},{"x":0.62,"y":4.14,"s":"D0"},{"x":0.92,"y":3.62,"s":"D0"},{"x":-2.35,"y":2.2,"s":"D0"},{"x":-1.96,"y":2.25,"s":"D0"},{"x":-0.15,"y":2.07,"s":"D0"},{"x":-2.73,"y":2.07,"s":"D0"},{"x":-1.7,"y":1.97,"s":"D0"},
{"x":-0.08,"y":5.03,"s":"D1"},{"x":-0.1,"y":4.8,"s":"D1"},{"x":-0.65,"y":4.86,"s":"D1"},{"x":-1.19,"y":4.7,"s":"D1"},{"x":-0.9,"y":4.7,"s":"D1"},{"x":-0.35,"y":4.45,"s":"D1"},{"x":-1.69,"y":5.72,"s":"D1"},{"x":-1.35,"y":4.38,"s":"D1"},{"x":-1.88,"y":3.93,"s":"D1"},{"x":-1.42,"y":3.93,"s":"D1"},{"x":-1,"y":4.07,"s":"D1"},{"x":0.54,"y":4.34,"s":"D1"},{"x":0.12,"y":4.2,"s":"D1"},{"x":0.92,"y":4.1,"s":"D1"},{"x":0.69,"y":3.97,"s":"D1"},{"x":1.08,"y":3.97,"s":"D1"},{"x":-2.15,"y":3.66,"s":"D1"},{"x":-1.77,"y":3.04,"s":"D1"},{"x":-1.33,"y":3.85,"s":"D1"},{"x":-0.65,"y":3.8,"s":"D1"},{"x":0.23,"y":3.75,"s":"D1"},{"x":0.54,"y":3.63,"s":"D1"},{"x":0.73,"y":3.55,"s":"D1"},{"x":1.5,"y":3.65,"s":"D1"},{"x":1.38,"y":3.1,"s":"D1"},{"x":1.73,"y":2.73,"s":"D1"},{"x":1.12,"y":2.69,"s":"D1"},{"x":2.08,"y":2.39,"s":"D1"},{"x":2.42,"y":1.74,"s":"D1"},{"x":-0.96,"y":-1.26,"s":"D1"},{"x":-0.8,"y":-1.67,"s":"D1"},{"x":-1.23,"y":-0.15,"s":"D1"},{"x":0.12,"y":-0.22,"s":"D1"},{"x":-0.3,"y":-0.05,"s":"D1"},{"x":-3.2,"y":1,"s":"D1"},{"x":-3,"y":0.8,"s":"D1"},{"x":-3.15,"y":0,"s":"D1"},{"x":-2.95,"y":0.05,"s":"D1"},{"x":-3.1,"y":-0.3,"s":"D1"},{"x":-2.7,"y":-0.6,"s":"D1"},{"x":-2.46,"y":-0.5,"s":"D1"},{"x":-2.33,"y":-0.3,"s":"D1"},{"x":-3.4,"y":-0.4,"s":"D1"},{"x":-4.2,"y":-0.2,"s":"D1"},{"x":-2.58,"y":0.33,"s":"D1"},{"x":-1.38,"y":1.46,"s":"D1"},{"x":-1.38,"y":0.2,"s":"D1"},{"x":0.9,"y":-0.5,"s":"D1"},{"x":1.15,"y":-0.4,"s":"D1"},{"x":1.3,"y":-0.05,"s":"D1"},
{"x":1.46,"y":-7.06,"s":"B0"},{"x":2.23,"y":-7.27,"s":"B0"},{"x":1.08,"y":-7.82,"s":"B0"},{"x":0.92,"y":-8,"s":"B0"},{"x":1.19,"y":-7.92,"s":"B0"},{"x":1.4,"y":-7.85,"s":"B0"},{"x":1.12,"y":-8.16,"s":"B0"},{"x":0.85,"y":-8.15,"s":"B0"},{"x":1.58,"y":-7.58,"s":"B0"},{"x":1.4,"y":-8.15,"s":"B0"},{"x":2.46,"y":-8.57,"s":"B0"},{"x":2.27,"y":-9.36,"s":"B0"},{"x":2.62,"y":-10.12,"s":"B0"},{"x":2.46,"y":-9.98,"s":"B0"},
{"x":2,"y":-7.24,"s":"B1"},{"x":2.3,"y":-7.5,"s":"B1"},{"x":2.42,"y":-7.76,"s":"B1"},{"x":2.15,"y":-7.5,"s":"B1"},{"x":2.5,"y":-8.27,"s":"B1"},{"x":2.54,"y":-9.71,"s":"B1"},
{"x":1.5,"y":-8.1,"s":"C0"},{"x":1.75,"y":-8.1,"s":"C0"},{"x":2,"y":-8.1,"s":"C0"},{"x":1,"y":-8.3,"s":"C0"},{"x":1.25,"y":-8.3,"s":"C0"},{"x":1.5,"y":-8.3,"s":"C0"},{"x":1.75,"y":-8.3,"s":"C0"},{"x":2,"y":-8.3,"s":"C0"},{"x":2.2,"y":-8.3,"s":"C0"},{"x":0.85,"y":-8.5,"s":"C0"},{"x":1.1,"y":-8.5,"s":"C0"},{"x":1.35,"y":-8.5,"s":"C0"},{"x":1.6,"y":-8.5,"s":"C0"},{"x":1.85,"y":-8.5,"s":"C0"},{"x":2.05,"y":-8.5,"s":"C0"},{"x":0.9,"y":-8.7,"s":"C0"},{"x":1.15,"y":-8.7,"s":"C0"},{"x":1.4,"y":-8.7,"s":"C0"},{"x":1.65,"y":-8.7,"s":"C0"},{"x":1.9,"y":-8.7,"s":"C0"},{"x":2.1,"y":-8.7,"s":"C0"},{"x":2.35,"y":-8.7,"s":"C0"},{"x":1.05,"y":-8.9,"s":"C0"},{"x":1.3,"y":-8.9,"s":"C0"},{"x":1.55,"y":-8.9,"s":"C0"},{"x":1.8,"y":-8.9,"s":"C0"},{"x":1.15,"y":-9.1,"s":"C0"},{"x":1.4,"y":-9.1,"s":"C0"},{"x":1.65,"y":-9.1,"s":"C0"},{"x":1.3,"y":-9.3,"s":"C0"},{"x":1.5,"y":-9.3,"s":"C0"},{"x":1.4,"y":-9.5,"s":"C0"},{"x":1.55,"y":-9.5,"s":"C0"},{"x":2.1,"y":-9.65,"s":"C0"},{"x":2.27,"y":-9.8,"s":"C0"},{"x":2.38,"y":-9.43,"s":"C0"},{"x":2.73,"y":-8.55,"s":"C0"},{"x":3.04,"y":-8.5,"s":"C0"},{"x":3.3,"y":-8.6,"s":"C0"},{"x":2.2,"y":-8.8,"s":"C0"},
{"x":1.8,"y":-7.58,"s":"C1"},{"x":2.08,"y":-7.65,"s":"C1"},{"x":2.27,"y":-7.89,"s":"C1"},{"x":1.85,"y":-7.82,"s":"C1"},{"x":1.7,"y":-7.92,"s":"C1"},{"x":2.15,"y":-8.1,"s":"C1"},{"x":2.2,"y":-8.25,"s":"C1"},{"x":2.27,"y":-8.54,"s":"C1"},{"x":2.8,"y":-8.37,"s":"C1"},{"x":1.5,"y":-8.68,"s":"C1"},{"x":1.15,"y":-8.95,"s":"C1"},{"x":1.8,"y":-9.5,"s":"C1"},{"x":2.46,"y":-9.82,"s":"C1"},
{"x":1.46,"y":-8,"s":"D1"},{"x":1.73,"y":-8.47,"s":"D1"},{"x":1.12,"y":-8.68,"s":"D1"},{"x":1.08,"y":-8.81,"s":"D1"},{"x":1.46,"y":-9.23,"s":"D1"},{"x":3.2,"y":-8.6,"s":"D1"},{"x":2.42,"y":-9.95,"s":"D1"},
{"x":-10.54,"y":-12.74,"s":"B0"},{"x":-10.27,"y":-12.57,"s":"B0"},{"x":-10.04,"y":-12.5,"s":"B0"},{"x":-9.5,"y":-12.63,"s":"B1"},{"x":-9,"y":-12.74,"s":"B1"},{"x":-8.88,"y":-12.9,"s":"B1"},{"x":-9.58,"y":-12.9,"s":"B1"},{"x":-9.2,"y":-12.6,"s":"B1"},{"x":-10.04,"y":-12.63,"s":"C1"},{"x":-10.46,"y":-13.14,"s":"C1"},{"x":-9.58,"y":-13.38,"s":"C1"},{"x":-10.46,"y":-12.97,"s":"C0"},{"x":-10.54,"y":-13.08,"s":"C0"},{"x":-10.42,"y":-13.25,"s":"C0"},{"x":-10.15,"y":-12.7,"s":"C0"},{"x":-10.23,"y":-13.2,"s":"C0"},{"x":-9.65,"y":-13.25,"s":"C0"},{"x":-9.46,"y":-12.7,"s":"C0"},{"x":-9.31,"y":-13.32,"s":"C0"},{"x":-10.3,"y":-12.95,"s":"C0"},{"x":-10.23,"y":-12.87,"s":"D0"},{"x":-9.31,"y":-12.7,"s":"D0"},{"x":-9.46,"y":-13.08,"s":"D0"},{"x":-8.88,"y":-13.2,"s":"D0"},{"x":-8.88,"y":-13.38,"s":"D0"},{"x":-9.1,"y":-13.38,"s":"D0"},{"x":-9.95,"y":-13.05,"s":"D0"},{"x":-10.35,"y":-12.74,"s":"D1"},{"x":-10,"y":-12.83,"s":"D1"},{"x":-9.77,"y":-12.97,"s":"D1"},{"x":-9.69,"y":-12.77,"s":"D1"},{"x":-10.27,"y":-13.1,"s":"D1"},{"x":-9.92,"y":-13.14,"s":"D1"},{"x":-9.19,"y":-12.74,"s":"D1"},{"x":-9.12,"y":-12.97,"s":"D1"},{"x":-9.27,"y":-13.14,"s":"D1"},{"x":-9.31,"y":-13.28,"s":"D1"},{"x":-9.12,"y":-13.25,"s":"D1"},
{"x":-8.54,"y":-13.56,"s":"B1"},{"x":-8.35,"y":-13.7,"s":"C0"},{"x":-8.15,"y":-13.8,"s":"D0"},{"x":-7.77,"y":-13.95,"s":"B1"},{"x":-7.5,"y":-13.95,"s":"B1"},{"x":-7.08,"y":-14.28,"s":"B1"},{"x":-6.77,"y":-14.28,"s":"B1"},{"x":-6.6,"y":-14.76,"s":"B1"},{"x":-7.85,"y":-14,"s":"C0"},{"x":-7.6,"y":-14.05,"s":"C0"},{"x":-7.4,"y":-14.05,"s":"C0"},{"x":-7.15,"y":-14.1,"s":"C0"},{"x":-7.65,"y":-14.25,"s":"C0"},{"x":-7.4,"y":-14.25,"s":"C0"},{"x":-7.15,"y":-14.3,"s":"C0"},{"x":-6.95,"y":-14.25,"s":"C0"},{"x":-7.45,"y":-14.45,"s":"C0"},{"x":-7.2,"y":-14.45,"s":"C0"},{"x":-7,"y":-14.45,"s":"C0"},{"x":-6.88,"y":-14.52,"s":"C0"},{"x":-6.62,"y":-14.45,"s":"C0"},{"x":-6.7,"y":-14.65,"s":"C0"},{"x":-6.5,"y":-14.7,"s":"C0"},{"x":-7,"y":-14.7,"s":"C0"},{"x":-6.3,"y":-14.84,"s":"C0"},{"x":-6,"y":-14.8,"s":"C0"},{"x":-5.92,"y":-15.07,"s":"C0"},{"x":-7,"y":-14.6,"s":"D0"},{"x":-5.73,"y":-14.87,"s":"D0"},{"x":-7.2,"y":-14.6,"s":"D1"},{"x":-6.8,"y":-14.6,"s":"D1"},{"x":-6.5,"y":-14.42,"s":"D1"},{"x":-6.2,"y":-14.63,"s":"D1"},{"x":-5.92,"y":-14.97,"s":"D1"},{"x":-5.46,"y":-14.93,"s":"D1"},
{"x":-4.9,"y":-15.6,"s":"B0"},{"x":-4.65,"y":-15.5,"s":"B0"},{"x":-4.4,"y":-15.5,"s":"B0"},{"x":-4.3,"y":-15.7,"s":"B0"},{"x":-4.55,"y":-15.75,"s":"B0"},{"x":-4.8,"y":-15.8,"s":"B0"},{"x":-4.4,"y":-15.9,"s":"B0"},{"x":-4.65,"y":-15.95,"s":"B0"},{"x":-4.85,"y":-16,"s":"B0"},{"x":-4.58,"y":-14.93,"s":"B1"},{"x":-4.46,"y":-15.1,"s":"B1"},{"x":-5.6,"y":-15.2,"s":"C0"},{"x":-5.4,"y":-15.3,"s":"C0"},{"x":-5.08,"y":-15.28,"s":"C0"},{"x":-4.85,"y":-15.15,"s":"C0"},{"x":-5.23,"y":-15.55,"s":"C0"},{"x":-4.96,"y":-15.44,"s":"C0"},{"x":-4.7,"y":-15.3,"s":"C0"},{"x":-5.03,"y":-15.83,"s":"C0"},{"x":-4.38,"y":-15.35,"s":"C0"},{"x":-4.58,"y":-15.1,"s":"C0"},{"x":-5.2,"y":-15.7,"s":"C0"},{"x":-4.88,"y":-15.38,"s":"C1"},{"x":-4.65,"y":-15.1,"s":"D0"},{"x":-4.65,"y":-15.22,"s":"D0"},{"x":-4.96,"y":-15.58,"s":"D0"},{"x":-4.42,"y":-15.1,"s":"D1"},
{"x":17.42,"y":-5.55,"s":"C0"},{"x":17.52,"y":-5.64,"s":"C0"}
]},
"mark":{"type":"circle","size":62,"opacity":1},
"encoding":{
"x":{"field":"x","type":"quantitative","title":"atacUMAP_1",
"scale":{"domain":[-11.96,18.88],"nice":false,"zero":false},
"axis":{"values":[-10,0,10],"grid":false,"labelExpr":"datum.value+''","labelFont":"Liberation Sans","labelFontSize":32,"labelColor":"black","labelPadding":5,"titleFont":"Liberation Sans","titleFontSize":37,"titleFontWeight":"normal","titleColor":"black","titlePadding":10,"domainColor":"black","domainWidth":2.7,"tickColor":"black","tickWidth":2.7,"tickSize":9}},
"y":{"field":"y","type":"quantitative","title":"atacUMAP_2",
"scale":{"domain":[-17.03,8.43],"nice":false,"zero":false},
"axis":{"values":[-15,-10,-5,0,5],"grid":false,"labelExpr":"datum.value+''","labelFont":"Liberation Sans","labelFontSize":32,"labelColor":"black","labelPadding":9,"titleFont":"Liberation Sans","titleFontSize":37,"titleFontWeight":"normal","titleColor":"black","titlePadding":10,"domainColor":"black","domainWidth":2.7,"tickColor":"black","tickWidth":2.7,"tickSize":9}},
"color":{"field":"s","type":"nominal",
"scale":{"domain":["B0","B1","C0","C1","D0","D1"],"range":["#F8766D","#B79F00","#00BA38","#00BFC4","#619CFF","#F564E3"]},
"legend":{"title":null,"orient":"none","legendX":843,"legendY":253,"symbolType":"circle","symbolSize":441,"symbolOpacity":1,"symbolStrokeWidth":0,"labelFont":"Liberation Sans","labelFontSize":32,"labelColor":"black","labelOffset":21,"labelLimit":400,"rowPadding":9,"padding":0,
"labelExpr":"'Sample_'+slice(datum.label,0,1)+'_donor'+slice(datum.label,1)"}}
}
}
